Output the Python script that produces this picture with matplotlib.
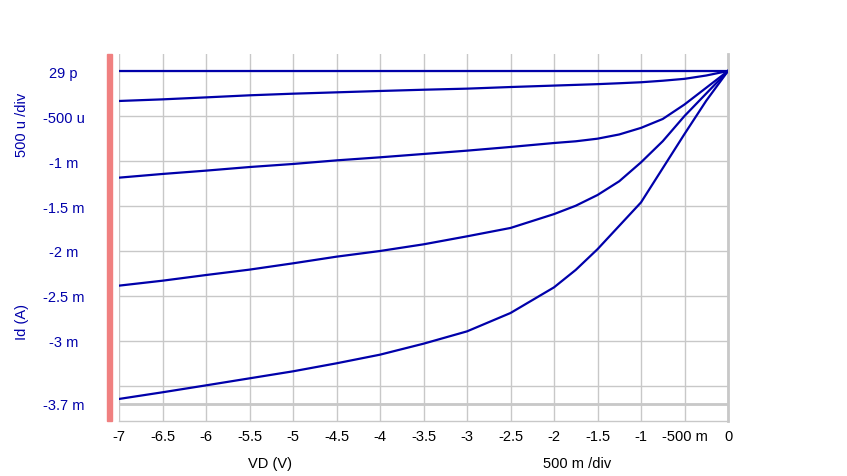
import matplotlib
matplotlib.use("Agg")
import matplotlib.pyplot as plt
from matplotlib.patches import Rectangle

# drain voltage sweep (V)
vd = [-7, -6.5, -6, -5.5, -5, -4.5, -4, -3.5, -3, -2.5, -2,
      -1.75, -1.5, -1.25, -1, -0.75, -0.5, -0.25, 0]

# drain current per gate step (mA)
id_1 = [0, 0, 0, 0, 0, 0, 0, 0, 0, 0, 0, 0, 0, 0, 0, 0, 0, 0, 0]
id_2 = [-0.333, -0.315, -0.293, -0.27, -0.252, -0.237, -0.222, -0.208, -0.196, -0.178,
        -0.162, -0.154, -0.146, -0.136, -0.125, -0.108, -0.087, -0.05, 0]
id_3 = [-1.185, -1.144, -1.107, -1.067, -1.033, -0.993, -0.959, -0.922, -0.885, -0.844,
        -0.8, -0.781, -0.752, -0.705, -0.632, -0.533, -0.372, -0.186, 0]
id_4 = [-2.385, -2.33, -2.267, -2.207, -2.137, -2.063, -2.0, -1.926, -1.837, -1.744,
        -1.59, -1.497, -1.378, -1.225, -1.015, -0.78, -0.5, -0.25, 0]
id_5 = [-3.644, -3.57, -3.493, -3.415, -3.337, -3.248, -3.152, -3.03, -2.893, -2.689,
        -2.404, -2.21, -1.98, -1.72, -1.46, -1.08, -0.7, -0.33, 0]

xticks = [-7, -6.5, -6, -5.5, -5, -4.5, -4, -3.5, -3, -2.5, -2, -1.5, -1, -0.5, 0]
xlabels = ["-7", "-6.5", "-6", "-5.5", "-5", "-4.5", "-4", "-3.5", "-3", "-2.5",
           "-2", "-1.5", "-1", "-500 m", "0"]
yticks = [0, -0.5, -1, -1.5, -2, -2.5, -3, -3.5, -3.7]
ylabels = ["29 p", "-500 u", "-1 m", "-1.5 m", "-2 m", "-2.5 m", "-3 m", "", "-3.7 m"]

plt.rcParams['font.family'] = ['Liberation Sans', 'DejaVu Sans']
W, H = 847, 477
fig = plt.figure(figsize=(W / 100, H / 100), dpi=100)

def px(x0, y0, x1, y1):
    return [x0 / W, 1 - y1 / H, (x1 - x0) / W, (y1 - y0) / H]

ax = fig.add_axes(px(119, 55, 728, 422))
blue = "#0000aa"
grid = "#c8c8c8"

for ys in [id_1, id_2, id_3, id_4, id_5]:
    ax.plot(vd, ys, color=blue, lw=1.6, zorder=3)

ax.set_xlim(-7, 0)
ax.set_ylim(-3.889, 0.189)
ax.set_xticks(xticks)
ax.set_xticklabels(xlabels)
ax.set_yticks(yticks)
ax.set_yticklabels(ylabels)
ax.grid(True, color=grid, lw=1)
ax.tick_params(length=0, labelsize=10.5)
ax.tick_params(axis='x', pad=6, colors='black')
ax.tick_params(axis='y', pad=40, labelcolor=blue)
for lab in ax.get_yticklabels():
    lab.set_horizontalalignment('center')
ax.axhline(-3.7, color=grid, lw=2, zorder=1)

for s in ['left', 'top']:
    ax.spines[s].set_visible(False)
ax.spines['right'].set_color(grid)
ax.spines['right'].set_linewidth(2)
ax.spines['bottom'].set_color(grid)
ax.spines['bottom'].set_linewidth(1)

# pink marker bar left of the plot
fig.patches.append(Rectangle((107 / W, 1 - 422 / H), 5 / W, 367 / H,
                             transform=fig.transFigure, color="#f08080"))

fig.text(270 / W, 1 - 464 / H, "VD (V)", ha='center', va='center', fontsize=10.5)
fig.text(577 / W, 1 - 464 / H, "500 m /div", ha='center', va='center', fontsize=10.5)
fig.text(22 / W, 1 - 125 / H, "500 u /div", ha='center', va='center',
         rotation=90, color=blue, fontsize=10.5)
fig.text(22 / W, 1 - 322 / H, "Id (A)", ha='center', va='center',
         rotation=90, color=blue, fontsize=10.5)

fig.savefig("out.png", dpi=100)
